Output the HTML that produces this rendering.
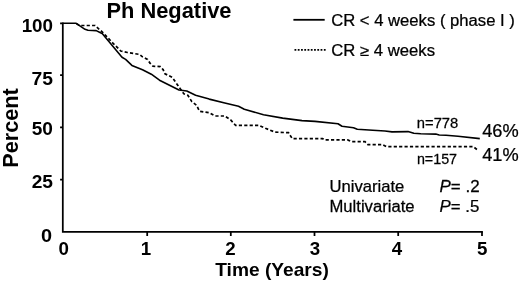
<!DOCTYPE html>
<html>
<head>
<meta charset="utf-8">
<style>
html,body{margin:0;padding:0;background:#fff;}
body{width:520px;height:282px;overflow:hidden;position:relative;font-family:"Liberation Sans",sans-serif;color:#000;}
svg{position:absolute;left:0;top:0;filter:grayscale(1);}
text{font-family:"Liberation Sans",sans-serif;fill:#000;stroke:#000;stroke-width:0.25px;}
.b{font-weight:bold;stroke:none;}
</style>
</head>
<body>
<svg width="520" height="282" viewBox="0 0 520 282">
<rect width="520" height="282" fill="#fff"/>
<g stroke="#000" stroke-width="1.75" fill="none">
<path d="M62.8 22.4 V231.9 H482.9" stroke-linejoin="miter"/>
<path d="M60.1 23.3 H62.8 M60.1 75.1 H62.8 M60.1 127.25 H62.8 M60.1 179.6 H62.8"/>
<path d="M147.2 231.9 V236 M230.8 231.9 V236 M314.5 231.9 V236 M398.2 231.9 V236 M482.0 231.9 V236"/>
</g>
<path fill="none" stroke="#000" stroke-width="1.6" stroke-linejoin="round" d="M62.8 23.3 H76.2 L85 29.3 L88 30.3 L96.2 30.6 L100 32.5 L102.2 33.6 L122 57.3 L125.6 59.4 L131.9 65.4 L142.5 69.8 L151.3 74.2 L159.5 80.2 L179 90 L186.8 91 L195.6 95.2 L209.2 99.1 L224.8 103 L238.5 106.3 L244.3 109.2 L263.5 114.8 L282.7 118.1 L302 120.6 L315 121.4 L338 123.8 L342 126.3 L353.5 127.7 L357.3 129.2 L372.7 130.2 L385 131 L392 131.9 L408 131.6 L413.8 133.3 L420.8 133.8 L435.8 134.1 L439.2 135 L446 135.3 L458 136.3 L479.8 138.6"/>
<path fill="none" stroke="#000" stroke-width="1.7" stroke-dasharray="3.2 2.2" d="M76.4 23.6 L79.5 25.5 L95 25.5 L99.8 29.8 L103.2 32.8 L111.4 41.6 L120.8 51 L127.5 52.5 L139.5 54.4 L142.5 56.9 L147.5 59.4 L150 63.1 L153 66.2 L160.3 66.6 L163.1 69.6 L165 73.8 L172.2 77.3 L179 87 L183.9 93.9 L187.8 95.2 L191.7 101.4 L196.6 105.3 L199.5 111.2 L209.2 112.7 L215 116 L224.8 116 L230.7 120 L235.6 125.3 L258.7 125.3 L265.4 128.3 L275 132.1 L288.5 132.7 L292.3 138.7 L322.7 138.7 L324.6 139.9 L347.7 139.9 L351.5 141.7 L365 141.7 L367.9 144.6 L382.3 144.6 L386.2 146.6 L473.3 146.6 L478.6 150.8"/>
<path d="M293.4 19.8 H324.7" stroke="#000" stroke-width="1.8"/>
<path d="M294.5 49.9 H326" stroke="#000" stroke-width="1.8" stroke-dasharray="1.8 1.46"/>
<text transform="translate(106.45 17.6) scale(1.0315 1)" font-size="21.2" class="b">Ph Negative</text>
<text transform="translate(331.20 25.75) scale(1.0675 1)" font-size="15.6">CR &lt; 4 weeks ( phase I )</text>
<text transform="translate(331.20 55.75) scale(1.0707 1)" font-size="15.6">CR ≥ 4 weeks</text>
<text transform="translate(21.63 31.7) scale(1.0121 1)" font-size="18.6" class="b">100</text>
<text transform="translate(31.47 84.6) scale(1.0390 1)" font-size="18.6" class="b">75</text>
<text transform="translate(31.73 134.8) scale(1.0260 1)" font-size="18.6" class="b">50</text>
<text transform="translate(31.63 188.2) scale(1.0312 1)" font-size="18.6" class="b">25</text>
<text transform="translate(40.89 241.6) scale(1.0700 1)" font-size="18.6" class="b">0</text>
<text transform="translate(58.53 255.2) scale(1.0700 1)" font-size="17.5" class="b">0</text>
<text transform="translate(140.87 255.2) scale(1.0700 1)" font-size="17.5" class="b">1</text>
<text transform="translate(225.17 255.2) scale(1.0700 1)" font-size="17.5" class="b">2</text>
<text transform="translate(309.67 255.2) scale(1.0700 1)" font-size="17.5" class="b">3</text>
<text transform="translate(391.65 255.2) scale(1.0700 1)" font-size="17.5" class="b">4</text>
<text transform="translate(477.03 255.2) scale(1.0700 1)" font-size="17.5" class="b">5</text>
<text transform="translate(215.23 275.75) scale(1.0896 1)" font-size="17.6" class="b">Time (Years)</text>
<text transform="translate(416.85 127.5) scale(1.0543 1)" font-size="14.0">n=778</text>
<text transform="translate(416.88 163.7) scale(1.0225 1)" font-size="14.0">n=157</text>
<text transform="translate(482.18 137.4) scale(1.0353 1)" font-size="17.6">46%</text>
<text transform="translate(482.18 161.1) scale(1.0353 1)" font-size="17.6">41%</text>
<text transform="translate(329.48 192.4) scale(1.0527 1)" font-size="15.8">Univariate</text>
<text transform="translate(329.48 212.0) scale(1.0540 1)" font-size="15.8">Multivariate</text>
<text transform="translate(439.56 192.4) scale(1.0722 1)" font-size="15.8"><tspan font-style="italic">P</tspan>= .2</text>
<text transform="translate(439.57 212.1) scale(1.0648 1)" font-size="15.8"><tspan font-style="italic">P</tspan>= .5</text>
<text transform="translate(17.8 167.83) rotate(-90) scale(1.0196 1)" font-size="21.3" class="b">Percent</text>
</svg>
</body>
</html>
